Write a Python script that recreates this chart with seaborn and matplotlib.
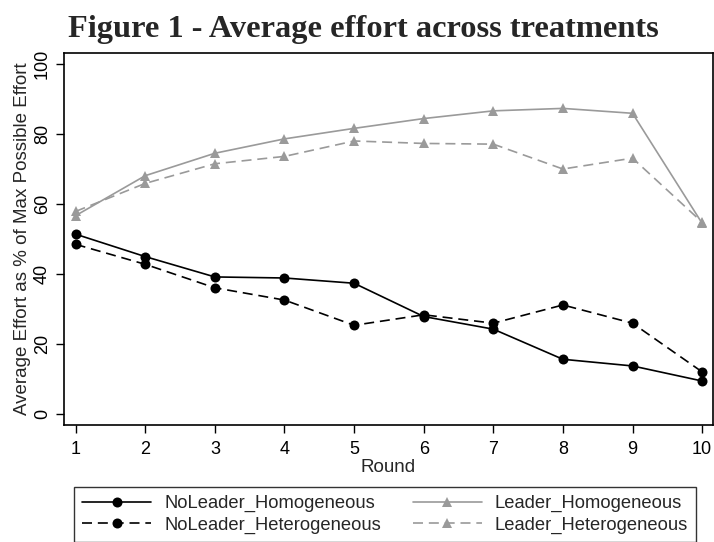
import matplotlib
matplotlib.use("Agg")
import matplotlib.pyplot as plt
import pandas as pd
import seaborn as sns

rounds = [1, 2, 3, 4, 5, 6, 7, 8, 9, 10]
noleader_hom = [51.4, 45.0, 39.2, 38.9, 37.4, 27.9, 24.3, 15.7, 13.8, 9.5]
noleader_het = [48.5, 42.8, 36.1, 32.6, 25.4, 28.4, 26.0, 31.2, 26.0, 12.1]
leader_hom = [56.7, 68.1, 74.5, 78.6, 81.6, 84.4, 86.6, 87.3, 85.9, 54.5]
leader_het = [57.9, 65.9, 71.5, 73.6, 78.0, 77.3, 77.1, 70.0, 73.1, 54.8]

series_names = ["NoLeader_Homogeneous", "NoLeader_Heterogeneous",
                "Leader_Homogeneous", "Leader_Heterogeneous"]
series_values = [noleader_hom, noleader_het, leader_hom, leader_het]

frames = []
for name, vals in zip(series_names, series_values):
    frames.append(pd.DataFrame({"Round": rounds, "Effort": vals, "series": name}))
df = pd.concat(frames, ignore_index=True)

sns.set_theme(style="ticks")
plt.rcParams["font.family"] = ["Liberation Sans", "DejaVu Sans"]

black = "#000000"
grey = "#9a9a9a"
palette = {
    "NoLeader_Homogeneous": black,
    "NoLeader_Heterogeneous": black,
    "Leader_Homogeneous": grey,
    "Leader_Heterogeneous": grey,
}
dashes = {
    "NoLeader_Homogeneous": "",
    "NoLeader_Heterogeneous": (6, 3.5),
    "Leader_Homogeneous": "",
    "Leader_Heterogeneous": (6, 3.5),
}
markers = {
    "NoLeader_Homogeneous": "o",
    "NoLeader_Heterogeneous": "o",
    "Leader_Homogeneous": "^",
    "Leader_Heterogeneous": "^",
}

fig = plt.figure(figsize=(7.14, 5.42), dpi=100)
ax = fig.add_axes([0.0896, 0.2159, 0.9084, 0.6869])

sns.lineplot(
    data=df,
    x="Round",
    y="Effort",
    hue="series",
    style="series",
    hue_order=series_names,
    style_order=series_names,
    palette=palette,
    dashes=dashes,
    markers=markers,
    markersize=7.2,
    markeredgewidth=0,
    linewidth=1.2,
    ax=ax,
)

ax.set_xlim(0.832, 10.15)
ax.set_ylim(-3.05, 103.2)
ax.set_xticks(rounds)
ax.set_yticks([0, 20, 40, 60, 80, 100])
ax.tick_params(axis="both", direction="out", length=5.5, width=1, colors="black", labelsize=13)
ax.tick_params(axis="y", pad=4)
ax.tick_params(axis="x", pad=6)
for lbl in ax.get_yticklabels():
    lbl.set_rotation(90)
    lbl.set_va("center")
for side in ["top", "right", "bottom", "left"]:
    ax.spines[side].set_visible(True)
    ax.spines[side].set_color("black")
    ax.spines[side].set_linewidth(1.2)
ax.grid(False)
ax.set_xlabel("Round", fontsize=13.5, labelpad=1)
ax.set_ylabel("Average Effort as % of Max Possible Effort", fontsize=13.5, labelpad=2)

handles, labels = ax.get_legend_handles_labels()
ax.get_legend().remove()
leg = fig.legend(
    handles,
    labels,
    ncol=2,
    loc="upper left",
    bbox_to_anchor=(74 / 714, 0.102),
    fontsize=13.2,
    frameon=True,
    fancybox=False,
    edgecolor="black",
    handlelength=3.75,
    handletextpad=0.72,
    labelspacing=0.25,
    borderpad=0.45,
    borderaxespad=0,
    columnspacing=1.75,
)
leg.get_frame().set_linewidth(1.0)

fig.text(0.509, 1 - 36.7 / 542, "Figure 1 - Average effort across treatments",
         ha="center", va="baseline", fontsize=23.3, fontweight="bold",
         family=["Liberation Serif", "DejaVu Serif"])

fig.savefig("out.png", dpi=100)
plt.close(fig)
